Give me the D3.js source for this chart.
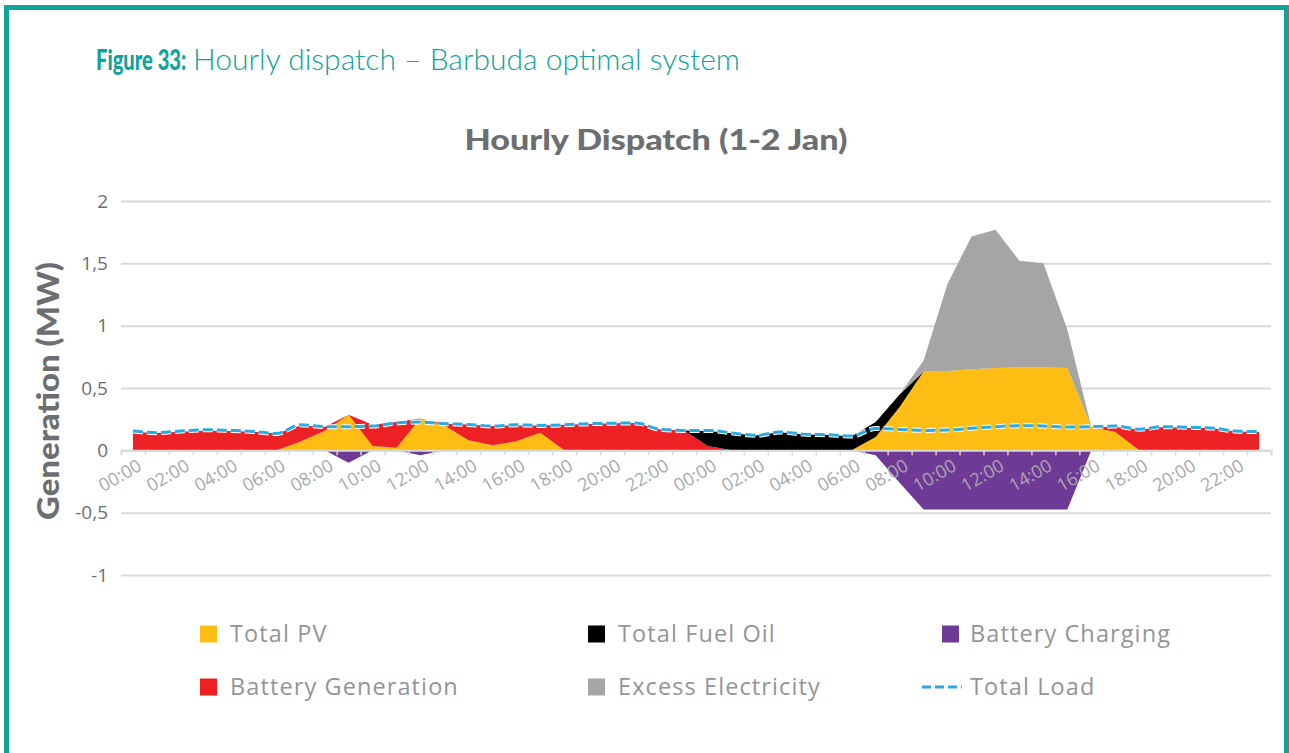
<!DOCTYPE html>
<html>
<head>
<meta charset="utf-8">
<script src="https://cdn.jsdelivr.net/npm/d3@7"></script>
<style>
  html, body { margin: 0; padding: 0; background: #ffffff; }
  svg { display: block; }
</style>
</head>
<body>
<svg id="chart" width="1289" height="753"></svg>
<script>
// Hourly dispatch over two days (1-2 Jan), values in MW
const hours = [
  "00:00","01:00","02:00","03:00","04:00","05:00","06:00","07:00","08:00","09:00","10:00","11:00",
  "12:00","13:00","14:00","15:00","16:00","17:00","18:00","19:00","20:00","21:00","22:00","23:00",
  "00:00","01:00","02:00","03:00","04:00","05:00","06:00","07:00","08:00","09:00","10:00","11:00",
  "12:00","13:00","14:00","15:00","16:00","17:00","18:00","19:00","20:00","21:00","22:00","23:00"
];

const totalPV = [
  0, 0, 0, 0, 0, 0, 0, 0.07, 0.155, 0.286, 0.035, 0.02,
  0.255, 0.2, 0.08, 0.04, 0.072, 0.142, 0, 0, 0, 0, 0, 0,
  0, 0, 0, 0, 0, 0, 0, 0.107, 0.347, 0.633, 0.636, 0.65,
  0.66, 0.665, 0.665, 0.66, 0.187, 0.147, 0, 0, 0, 0, 0, 0
];

const batteryGeneration = [
  0.147, 0.14, 0.15, 0.157, 0.155, 0.15, 0.135, 0.13, 0.032, 0, 0.17, 0.207,
  0, 0.014, 0.128, 0.155, 0.128, 0.058, 0.205, 0.212, 0.217, 0.22, 0.168, 0.16,
  0.035, 0, 0, 0, 0, 0, 0, 0, 0, 0, 0, 0,
  0, 0, 0, 0, 0, 0.04, 0.166, 0.187, 0.18, 0.18, 0.152, 0.147
];

const totalFuelOil = [
  0, 0, 0, 0, 0, 0, 0, 0, 0, 0, 0, 0,
  0, 0, 0, 0, 0, 0, 0, 0, 0, 0, 0, 0,
  0.12, 0.137, 0.118, 0.145, 0.128, 0.122, 0.112, 0.12, 0.1, 0, 0, 0,
  0, 0, 0, 0, 0, 0, 0, 0, 0, 0, 0, 0
];

const batteryCharging = [
  0, 0, 0, 0, 0, 0, 0, 0, 0, -0.1, 0, 0,
  -0.04, 0, 0, 0, 0, 0, 0, 0, 0, 0, 0, 0,
  0, 0, 0, 0, 0, 0, 0, -0.04, -0.26, -0.475, -0.475, -0.475,
  -0.475, -0.475, -0.475, -0.475, 0, 0, 0, 0, 0, 0, 0, 0
];

const excessElectricity = [
  0, 0, 0, 0, 0, 0, 0, 0, 0, 0, 0, 0,
  0, 0, 0, 0, 0, 0, 0, 0, 0, 0, 0, 0,
  0, 0, 0, 0, 0, 0, 0, 0, 0, 0.087, 0.70, 1.065,
  1.11, 0.855, 0.835, 0.31, 0, 0, 0, 0, 0, 0, 0, 0
];

const totalLoad = [
  0.155, 0.142, 0.155, 0.165, 0.16, 0.152, 0.135, 0.205, 0.19, 0.19, 0.195, 0.22,
  0.227, 0.214, 0.208, 0.195, 0.205, 0.2, 0.205, 0.214, 0.217, 0.22, 0.168, 0.16,
  0.16, 0.14, 0.12, 0.147, 0.13, 0.125, 0.115, 0.176, 0.168, 0.16, 0.163, 0.177,
  0.19, 0.198, 0.195, 0.187, 0.19, 0.195, 0.17, 0.19, 0.185, 0.18, 0.155, 0.15
];

const yTickValues = [-1, -0.5, 0, 0.5, 1, 1.5, 2];

const colors = {
  pv: "#fdbd12",
  batt: "#ed2024",
  fuel: "#000000",
  charge: "#6f3996",
  excess: "#a5a5a5",
  load: "#29abe2"
};
const teal = "#10a399";

const rows = hours.map((h, i) => ({
  i: i,
  hour: h,
  pv: totalPV[i],
  batt: batteryGeneration[i],
  fuel: totalFuelOil[i],
  charge: batteryCharging[i],
  excess: excessElectricity[i],
  load: totalLoad[i]
}));

const svg = d3.select("#chart");

// frame
svg.append("rect")
  .attr("x", 6.5).attr("y", 7.5)
  .attr("width", 1280).attr("height", 1000)
  .attr("fill", "none")
  .attr("stroke", teal)
  .attr("stroke-width", 5);

// figure caption (bold label set in a condensed cut)
svg.append("text")
  .attr("transform", "translate(96,70) scale(0.72,1)")
  .attr("fill", teal)
  .style("font-family", "Lato, sans-serif")
  .style("font-weight", 900)
  .style("font-size", "28px")
  .text("Figure 33:");
svg.append("text")
  .attr("x", 193).attr("y", 70)
  .attr("fill", teal)
  .attr("textLength", 547)
  .attr("lengthAdjust", "spacingAndGlyphs")
  .style("font-family", "Lato, sans-serif")
  .style("font-weight", 300)
  .style("font-size", "29px")
  .text("Hourly dispatch \u2013 Barbuda optimal system");

// chart title
svg.append("text")
  .attr("x", 656).attr("y", 150)
  .attr("text-anchor", "middle")
  .attr("fill", "#6d6e71")
  .attr("textLength", 383)
  .attr("lengthAdjust", "spacingAndGlyphs")
  .style("font-family", "Lato, sans-serif")
  .style("font-weight", 900)
  .style("font-size", "29px")
  .text("Hourly Dispatch (1-2 Jan)");

// scales
const left = 121, right = 1271;
const x = d3.scaleBand().domain(d3.range(hours.length)).range([left, right]);
const cx = i => x(i) + x.bandwidth() / 2;
const xEdge = d3.scaleLinear().domain([0, hours.length]).range([left, right]);
const y = d3.scaleLinear().domain([-1, 2]).range([575, 201]);

// horizontal gridlines + y labels
const yAxis = d3.axisLeft(y)
  .tickValues(yTickValues)
  .tickSize(-(right - left))
  .tickPadding(13)
  .tickFormat(d => String(d).replace(".", ","));
const gy = svg.append("g").attr("transform", `translate(${left},0)`).call(yAxis);
gy.select(".domain").remove();
gy.selectAll(".tick line").attr("stroke", "#d9d9d9").attr("stroke-width", 2);
gy.selectAll(".tick text")
  .attr("fill", "#6d6e71")
  .style("font-family", "'Open Sans', sans-serif")
  .style("font-size", "19px");

// generation sources stacked upward from zero
const posKeys = ["pv", "batt", "fuel", "excess"];
const stacked = d3.stack().keys(posKeys)(rows);

const area = d3.area()
  .x(d => cx(d.data.i))
  .y0(d => y(d[0]))
  .y1(d => y(d[1]));

svg.append("g").selectAll("path")
  .data(stacked)
  .join("path")
  .attr("d", area)
  .attr("fill", d => colors[d.key]);

// battery charging drawn below zero
const chargeArea = d3.area()
  .x(d => cx(d.i))
  .y0(() => y(0))
  .y1(d => y(d.charge));
svg.append("path")
  .datum(rows)
  .attr("d", chargeArea)
  .attr("fill", colors.charge);

// horizontal axis with hourly ticks
const gx = svg.append("g").attr("transform", `translate(0,${y(0)})`)
  .call(d3.axisBottom(xEdge).tickValues(d3.range(hours.length + 1)).tickSize(5).tickFormat(""));
gx.select(".domain").attr("stroke", "#d9d9d9").attr("stroke-width", 2);
gx.selectAll(".tick line").attr("stroke", "#d9d9d9").attr("stroke-width", 1.5);

// hour labels every two hours
const gl = svg.append("g").attr("transform", `translate(0,${y(0)})`)
  .call(d3.axisBottom(x).tickValues(d3.range(0, hours.length, 2)).tickSize(0).tickFormat(i => hours[i]));
gl.select(".domain").remove();
gl.selectAll(".tick text")
  .attr("text-anchor", "end")
  .attr("dy", null)
  .attr("y", 0)
  .attr("transform", "translate(10,19) rotate(-30)")
  .attr("fill", "#a7a9ac")
  .style("font-family", "'Open Sans', sans-serif")
  .style("font-size", "18px");

// total load line
const loadLine = d3.line()
  .x(d => cx(d.i))
  .y(d => y(d.load))
  .curve(d3.curveMonotoneX);
svg.append("path")
  .datum(rows)
  .attr("d", loadLine)
  .attr("fill", "none")
  .attr("stroke", "#ffffff")
  .attr("stroke-width", 5)
  .attr("stroke-dasharray", "10,4");
svg.append("path")
  .datum(rows)
  .attr("d", loadLine)
  .attr("fill", "none")
  .attr("stroke", colors.load)
  .attr("stroke-width", 3)
  .attr("stroke-dasharray", "10,4");

// y axis title
svg.append("text")
  .attr("transform", "translate(59,391) rotate(-90)")
  .attr("text-anchor", "middle")
  .attr("fill", "#6d6e71")
  .attr("textLength", 258)
  .attr("lengthAdjust", "spacingAndGlyphs")
  .style("font-family", "Lato, sans-serif")
  .style("font-weight", 900)
  .style("font-size", "31px")
  .text("Generation (MW)");

// legend
const legendItems = [
  { name: "Total PV",           key: "pv",     col: 0, row: 0 },
  { name: "Total Fuel Oil",     key: "fuel",   col: 1, row: 0 },
  { name: "Battery Charging",   key: "charge", col: 2, row: 0 },
  { name: "Battery Generation", key: "batt",   col: 0, row: 1 },
  { name: "Excess Electricity", key: "excess", col: 1, row: 1 },
  { name: "Total Load",         key: "load",   col: 2, row: 1, line: true }
];
const colX = [200, 588, 942];
const textX = [230, 618, 970];
const rowY = [634, 687];

const lg = svg.append("g");
legendItems.forEach(it => {
  const yy = rowY[it.row];
  if (it.line) {
    lg.append("line")
      .attr("x1", 922).attr("x2", 962)
      .attr("y1", yy).attr("y2", yy)
      .attr("stroke", colors[it.key])
      .attr("stroke-width", 3)
      .attr("stroke-dasharray", "9,4");
  } else {
    lg.append("rect")
      .attr("x", colX[it.col]).attr("y", yy - 8.5)
      .attr("width", 17).attr("height", 17)
      .attr("fill", colors[it.key]);
  }
  lg.append("text")
    .attr("x", textX[it.col]).attr("y", yy + 8)
    .attr("fill", "#939598")
    .style("font-family", "'Open Sans', sans-serif")
    .style("font-size", "23.5px")
    .style("letter-spacing", "1.1px")
    .text(it.name);
});
</script>
</body>
</html>
